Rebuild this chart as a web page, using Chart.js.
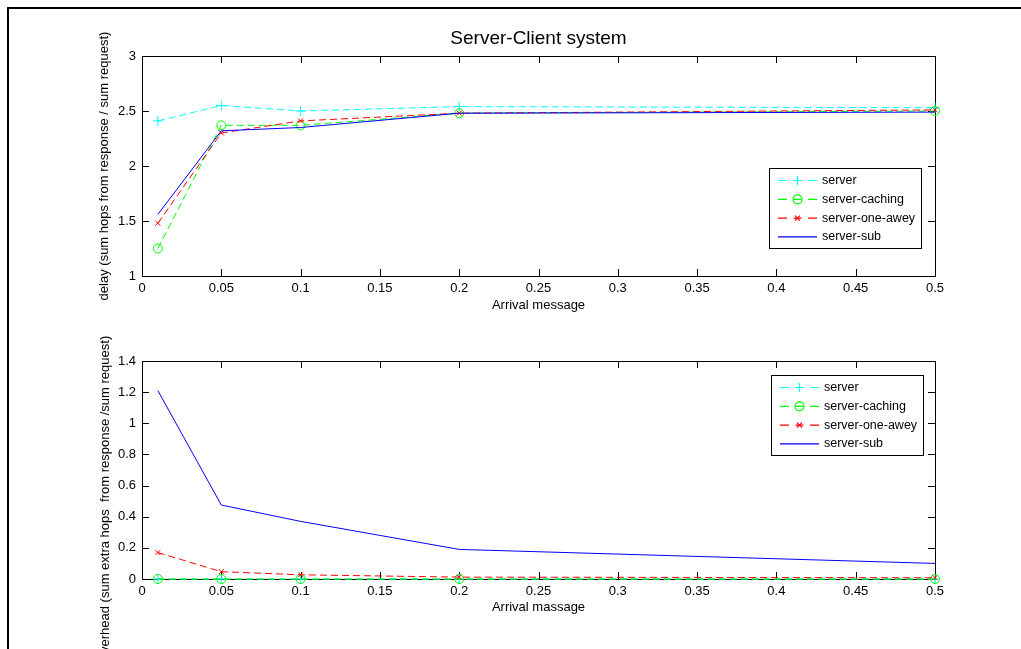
<!DOCTYPE html>
<html>
<head>
<meta charset="utf-8">
<script src="https://cdn.jsdelivr.net/npm/chart.js@4.4.0/dist/chart.umd.min.js"></script>
<style>
  html, body { margin: 0; padding: 0; background: #fff; }
  #wrap { position: relative; width: 1021px; height: 649px; overflow: hidden; }
  #frame { position: absolute; left: 7px; top: 7px; width: 1100px; height: 700px;
           border-top: 2px solid #000; border-left: 2px solid #000; }
  canvas { position: absolute; left: 0; }
</style>
</head>
<body>
<div id="wrap">
  <div id="frame"></div>
  <canvas id="delayChart" width="1021" height="330" style="top:0"></canvas>
  <canvas id="overheadChart" width="1021" height="319" style="top:330px"></canvas>
</div>
<script>
// ---- data ----
const arrivalRates = [0.01, 0.05, 0.1, 0.2, 0.5];
const seriesNames = ['server', 'server-caching', 'server-one-awey', 'server-sub'];

const delayServer  = [2.41, 2.55, 2.50, 2.54, 2.53];
const delayCaching = [1.25, 2.37, 2.37, 2.48, 2.50];
const delayOneAway = [1.48, 2.30, 2.41, 2.48, 2.51];
const delaySub     = [1.56, 2.32, 2.35, 2.48, 2.49];

const overheadServer  = [0, 0, 0, 0, 0];
const overheadCaching = [0, 0, 0, 0, 0];
const overheadOneAway = [0.17, 0.047, 0.027, 0.012, 0.008];
const overheadSub     = [1.21, 0.475, 0.37, 0.19, 0.10];

const arrivalTicks  = [0, 0.05, 0.1, 0.15, 0.2, 0.25, 0.3, 0.35, 0.4, 0.45, 0.5];
const delayTicks    = [1, 1.5, 2, 2.5, 3];
const overheadTicks = [0, 0.2, 0.4, 0.6, 0.8, 1, 1.2, 1.4];

Chart.defaults.font.family = "'Liberation Sans', Arial, sans-serif";
Chart.defaults.font.size = 13;
Chart.defaults.color = '#000';

const FONT = "'Liberation Sans', Arial, sans-serif";

// matlab-ish look: boxed axes, inward ticks, legend box inside the plot
const matlabAxes = {
  id: 'matlabAxes',
  beforeDatasetsDraw(chart) {
    const { ctx, chartArea: a, scales: { x, y } } = chart;
    ctx.save();
    ctx.strokeStyle = '#000';
    ctx.lineWidth = 1;
    ctx.strokeRect(a.left + 0.5, a.top + 0.5, a.right - a.left, a.bottom - a.top);
    ctx.beginPath();
    x.ticks.forEach(t => {
      const px = Math.round(x.getPixelForValue(t.value)) + 0.5;
      ctx.moveTo(px, a.bottom); ctx.lineTo(px, a.bottom - 7);
      ctx.moveTo(px, a.top); ctx.lineTo(px, a.top + 7);
    });
    y.ticks.forEach(t => {
      const py = Math.round(y.getPixelForValue(t.value)) + 0.5;
      ctx.moveTo(a.left, py); ctx.lineTo(a.left + 7, py);
      ctx.moveTo(a.right, py); ctx.lineTo(a.right - 7, py);
    });
    ctx.stroke();
    ctx.restore();
  },
  afterDatasetsDraw(chart, args, opts) {
    const { ctx, chartArea: a } = chart;
    ctx.save();
    // legend
    const w = 152, h = 80;
    const left = a.right - opts.legendRight - w;
    const top = opts.legendTop != null ? a.top + opts.legendTop : a.bottom - opts.legendBottom - h;
    ctx.fillStyle = '#fff';
    ctx.fillRect(left, top, w, h);
    ctx.strokeStyle = '#000';
    ctx.lineWidth = 1;
    ctx.strokeRect(Math.round(left) + 0.5, Math.round(top) + 0.5, w, h);
    chart.data.datasets.forEach((ds, i) => {
      const ry = top + 12.5 + i * 18.8;
      const x0 = left + 9, x1 = left + 48, xm = left + 28.5;
      ctx.strokeStyle = ds.borderColor;
      ctx.lineWidth = 1.2;
      ctx.setLineDash([]);
      ctx.beginPath();
      if (ds.borderDash && ds.borderDash.length) {
        ctx.moveTo(x0, ry); ctx.lineTo(x0 + 9, ry);
        ctx.moveTo(xm - 4, ry); ctx.lineTo(xm + 4, ry);
        ctx.moveTo(x1 - 9, ry); ctx.lineTo(x1, ry);
      } else {
        ctx.moveTo(x0, ry); ctx.lineTo(x1, ry);
      }
      ctx.stroke();
      if (ds.pointRadius > 0) {
        ctx.strokeStyle = ds.borderColor;
        ctx.fillStyle = ds.pointBackgroundColor;
        Chart.helpers.drawPoint(ctx, { pointStyle: ds.pointStyle, radius: Math.min(ds.pointRadius, 4.5), rotation: 0, borderWidth: 1.2 }, xm, ry);
      }
      ctx.fillStyle = '#000';
      ctx.font = '12.5px ' + FONT;
      ctx.textBaseline = 'middle';
      ctx.textAlign = 'left';
      ctx.fillText(ds.label, left + 53, ry);
    });
    ctx.restore();
  },
  afterDraw(chart, args, opts) {
    const { ctx, chartArea: a } = chart;
    ctx.save();
    ctx.fillStyle = '#000';
    ctx.textAlign = 'center';
    ctx.textBaseline = 'middle';
    if (opts.title) {
      ctx.font = '19px ' + FONT;
      ctx.fillText(opts.title, (a.left + a.right) / 2, 39);
    }
    if (opts.yLabel) {
      ctx.font = '13px ' + FONT;
      ctx.translate(105, opts.yLabelCenter);
      ctx.rotate(-Math.PI / 2);
      ctx.fillText(opts.yLabel, 0, 0);
    }
    ctx.restore();
  }
};

function toPoints(values) {
  return values.map((v, i) => ({ x: arrivalRates[i], y: v }));
}

function makeDatasets(server, caching, oneAway, sub) {
  const base = { borderWidth: 1, pointBorderWidth: 1, tension: 0, fill: false, clip: false };
  return [
    { ...base, label: seriesNames[0], data: toPoints(server), borderColor: '#00ffff',
      pointBackgroundColor: 'rgba(0,0,0,0)', borderDash: [7, 4], pointStyle: 'cross', pointRadius: 5, order: 3 },
    { ...base, label: seriesNames[1], data: toPoints(caching), borderColor: '#00ff00',
      pointBackgroundColor: 'rgba(0,0,0,0)', borderDash: [7, 4], pointStyle: 'circle', pointRadius: 4.5, order: 2 },
    { ...base, label: seriesNames[2], data: toPoints(oneAway), borderColor: '#ff0000',
      pointBackgroundColor: 'rgba(0,0,0,0)', borderDash: [7, 4], pointStyle: 'crossRot', pointRadius: 3.5, order: 1 },
    { ...base, label: seriesNames[3], data: toPoints(sub), borderColor: '#0000ff',
      pointBackgroundColor: 'rgba(0,0,0,0)', borderDash: [], pointStyle: 'circle', pointRadius: 0, order: 0 }
  ];
}

function tickFmt(v) { return String(+v.toFixed(2)); }

function makeOptions(cfg) {
  return {
    responsive: false,
    animation: false,
    events: [],
    layout: { padding: { top: cfg.padTop, right: 86, left: 0, bottom: 0 } },
    plugins: {
      legend: { display: false },
      tooltip: { enabled: false },
      matlabAxes: cfg.plugin
    },
    scales: {
      x: {
        type: 'linear', min: 0, max: 0.5,
        afterBuildTicks: s => { s.ticks = arrivalTicks.map(v => ({ value: v })); },
        afterFit: s => { s.height = cfg.xHeight; },
        grid: { display: false, drawTicks: false },
        border: { display: false },
        ticks: { padding: 5, maxRotation: 0, autoSkip: false, callback: tickFmt },
        title: { display: true, text: cfg.xTitle, font: { size: 13 }, padding: { top: 0, bottom: cfg.xTitlePad } }
      },
      y: {
        type: 'linear', min: cfg.yTicks[0], max: cfg.yTicks[cfg.yTicks.length - 1],
        afterBuildTicks: s => { s.ticks = cfg.yTicks.map(v => ({ value: v })); },
        afterFit: s => { s.width = 142; },
        grid: { display: false, drawTicks: false },
        border: { display: false },
        ticks: { padding: 6, autoSkip: false, callback: tickFmt },
        title: { display: !!cfg.yTitle, text: cfg.yTitle || '', font: { size: 13 }, padding: { top: 97, bottom: 0 } }
      }
    }
  };
}

new Chart(document.getElementById('delayChart'), {
  type: 'line',
  data: { datasets: makeDatasets(delayServer, delayCaching, delayOneAway, delaySub) },
  options: makeOptions({
    padTop: 56, xHeight: 54, xTitlePad: 17, yTicks: delayTicks,
    xTitle: 'Arrival message',
    yTitle: 'delay (sum hops from response / sum request)',
    plugin: { title: 'Server-Client system', legendRight: 14, legendBottom: 28 }
  }),
  plugins: [matlabAxes]
});

new Chart(document.getElementById('overheadChart'), {
  type: 'line',
  data: { datasets: makeDatasets(overheadServer, overheadCaching, overheadOneAway, overheadSub) },
  options: makeOptions({
    padTop: 31, xHeight: 70, xTitlePad: 34, yTicks: overheadTicks,
    xTitle: 'Arrival massage',
    yTitle: null,
    plugin: { legendRight: 12, legendTop: 14,
              yLabel: 'overhead (sum extra hops  from response /sum request)', yLabelCenter: 168 }
  }),
  plugins: [matlabAxes]
});
</script>
</body>
</html>
